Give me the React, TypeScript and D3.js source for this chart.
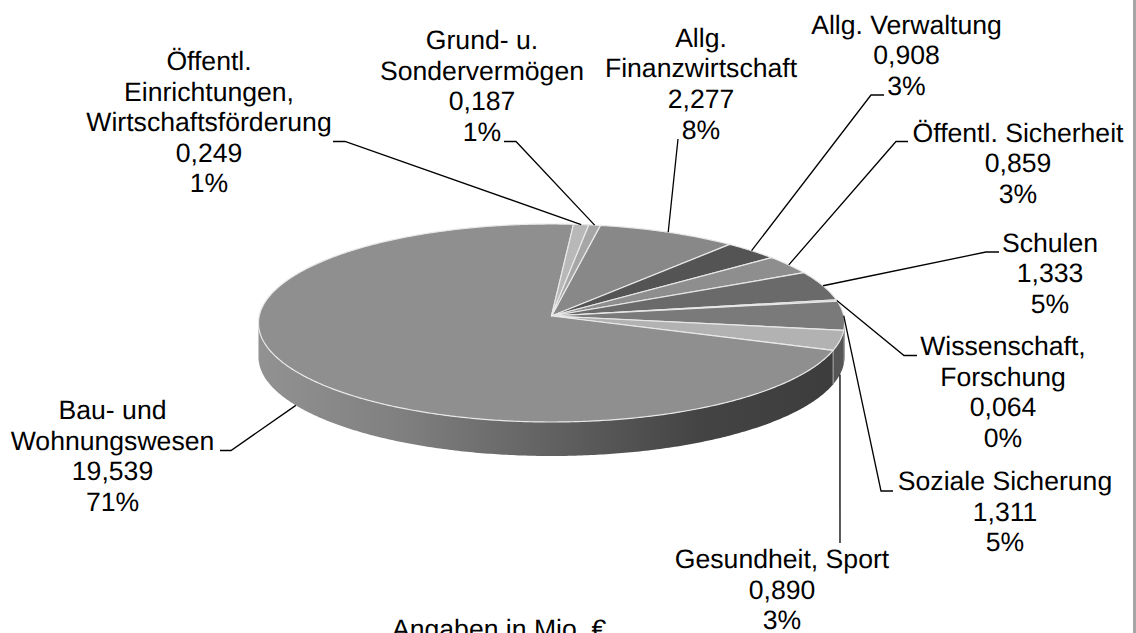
import React from "react";
import * as d3 from "d3";

// Ausgaben in Mio. Euro, clockwise from the top of the pie
const categories = [
  ["Allg.", "Finanzwirtschaft"],
  ["Allg. Verwaltung"],
  ["Öffentl. Sicherheit"],
  ["Schulen"],
  ["Wissenschaft,", "Forschung"],
  ["Soziale Sicherung"],
  ["Gesundheit, Sport"],
  ["Bau- und", "Wohnungswesen"],
  ["Öffentl.", "Einrichtungen,", "Wirtschaftsförderung"],
  ["Grund- u.", "Sondervermögen"],
];
const values = [2.277, 0.908, 0.859, 1.333, 0.064, 1.311, 0.89, 19.539, 0.249, 0.187];
const sliceColors = [
  "#888888",
  "#545454",
  "#8e8e8e",
  "#6a6a6a",
  "#9a9a9a",
  "#7a7a7a",
  "#b2b2b2",
  "#8f8f8f",
  "#b8b8b8",
  "#a6a6a6",
];
const sideColors = [null, null, null, null, null, "#4a4a4a", "#555555", "url(#sideGradient)", null, null];

// label centre x, first baseline y
const labelX = [701, 906.5, 1018, 1050, 1003, 1005, 782, 112.5, 209, 482];
const labelY = [46.7, 33.5, 141.5, 251.7, 355, 490, 568, 419, 70, 49];
// leader line: where it leaves the label, and its elbow
const leaderFrom = [
  [678, 139],
  [884, 95],
  [908, 141.5],
  [999, 252],
  [917, 355.5],
  [893, 491],
  [840, 543],
  [220, 450.5],
  [333, 141.5],
  [504, 141.5],
];
const leaderElbow = [null, [871, 95], [896, 141.5], [986, 252], [904, 355.5], [881, 491], null, [231, 450.5], [345, 141.5], [516, 141.5]];
const note = "Angaben in Mio. €";

const width = 1136;
const height = 633;
const cx = 551.5;
const cy = 316;
const rx = 292.3;
const ry = 98.5;
const tilt = 0.0707; // perspective, the front of the disc looks bigger
const depth = 34;
const startDeg = 10.3;
const fontSize = 26.6;
const lineHeight = 30.6;
const sideFrom = (94 * Math.PI) / 180;
const sideTo = (266 * Math.PI) / 180;

const deLocale = d3.formatLocale({
  decimal: ",",
  thousands: ".",
  grouping: [3],
  currency: ["", " €"],
});
const formatValue = deLocale.format(".3f");
const total = d3.sum(values);

const pie = d3
  .pie<number>()
  .sort(null)
  .startAngle((startDeg * Math.PI) / 180)
  .endAngle((startDeg * Math.PI) / 180 + 2 * Math.PI);

function project(angle: number, drop = 0): [number, number] {
  const u = Math.sin(angle);
  const v = Math.cos(angle);
  const d = 1 + tilt * v;
  return [cx + (rx * u) / d, cy - (ry * v) / d + drop];
}

function rim(a0: number, a1: number, drop = 0) {
  const n = Math.max(2, Math.ceil(Math.abs(a1 - a0) / 0.01));
  return d3.range(n + 1).map((i) => project(a0 + ((a1 - a0) * i) / n, drop));
}

const line = d3.line();

export default function App() {
  const slices = pie(values);

  return (
    <svg
      width={width}
      height={height}
      style={{ position: "absolute", left: 0, top: 0, display: "block", background: "#fff" }}
      fontFamily="'Liberation Sans', Arial, sans-serif"
      fontSize={fontSize}
      textRendering="geometricPrecision"
      fill="#000"
    >
      <defs>
        <linearGradient id="sideGradient" gradientUnits="userSpaceOnUse" x1={258} x2={845} y1={0} y2={0}>
          <stop offset="0" stopColor="#929292" />
          <stop offset="0.25" stopColor="#7f7f7f" />
          <stop offset="0.52" stopColor="#5f5f5f" />
          <stop offset="0.75" stopColor="#444444" />
          <stop offset="1" stopColor="#3c3c3c" />
        </linearGradient>
      </defs>

      <rect x={1133} y={0} width={3} height={height} fill="#a6a6a6" />

      {slices.map((s, i) => {
        const fill = sideColors[i];
        if (!fill) return null;
        const a0 = Math.max(s.startAngle, sideFrom);
        const a1 = Math.min(s.endAngle, sideTo);
        if (a1 <= a0) return null;
        const outline = [...rim(a0, a1), ...rim(a1, a0, depth)];
        return <path key={i} d={line(outline) + "Z"} fill={fill} />;
      })}
      {/* seam between the two front wall pieces */}
      {slices.map((s, i) =>
        i === 6 ? (
          <path
            key={i}
            d={line([project(s.endAngle), project(s.endAngle, depth)]) as string}
            stroke="#a8a8a8"
            strokeWidth={1}
            fill="none"
          />
        ) : null
      )}

      {slices.map((s, i) => (
        <path
          key={i}
          d={line([[cx, cy], ...rim(s.startAngle, s.endAngle)]) + "Z"}
          fill={sliceColors[i]}
          stroke="#e8e8e8"
          strokeWidth={1.2}
          strokeLinejoin="round"
        />
      ))}

      {slices.map((s, i) => {
        const mid = (s.startAngle + s.endAngle) / 2;
        const onFront = Math.cos(mid) < -0.2;
        const tip = project(mid, onFront ? depth : 0);
        const elbow = leaderElbow[i];
        const pts = (elbow ? [leaderFrom[i], elbow, tip] : [leaderFrom[i], tip]) as [number, number][];
        return <path key={i} d={line(pts) as string} fill="none" stroke="#000" strokeWidth={1.3} />;
      })}

      {categories.map((name, i) => {
        const rows = [
          ...name,
          formatValue(values[i]),
          Math.round((values[i] / total) * 100) + "%",
        ];
        return (
          <text key={i} textAnchor="middle">
            {rows.map((row, j) => (
              <tspan key={j} x={labelX[i]} y={labelY[i] + j * lineHeight}>
                {row}
              </tspan>
            ))}
          </text>
        );
      })}

      <text x={392} y={638}>
        {note}
      </text>
    </svg>
  );
}
